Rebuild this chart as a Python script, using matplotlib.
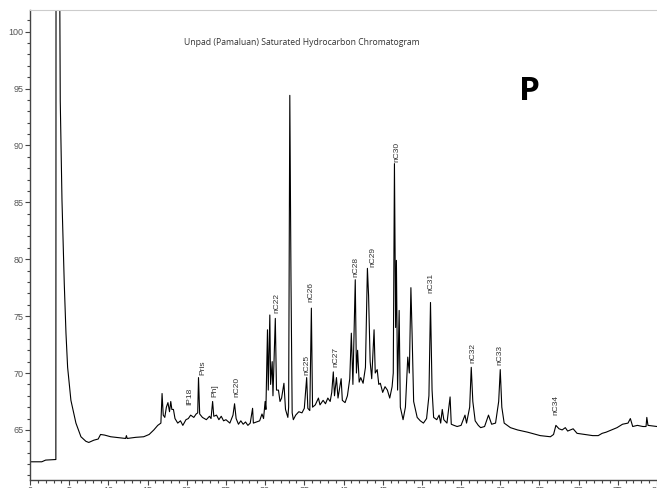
import matplotlib
matplotlib.use('Agg')
import matplotlib.pyplot as plt
from matplotlib.ticker import MultipleLocator

# Retention time (min) and detector response
rt = [
    0.0, 1.5, 2.0, 3.2, 3.3, 3.32, 3.8, 3.86, 4.08, 4.37, 4.59, 4.80, 5.22,
    5.86, 6.50, 7.13, 7.5, 8.15, 8.7, 9.0, 9.5, 10.3, 11.6, 12.2, 12.3, 12.4,
    13.5, 14.5, 15.2, 15.8, 16.3, 16.7, 16.85, 17.0, 17.2, 17.4, 17.6, 17.8,
    17.96, 18.1, 18.3, 18.5, 18.85, 19.2, 19.5, 19.9, 20.2, 20.5, 20.9, 21.2,
    21.4, 21.5, 21.65, 22.0, 22.5, 22.9, 23.1, 23.3, 23.45, 23.8, 24.1, 24.4,
    24.7, 25.0, 25.5, 25.9, 26.1, 26.3, 26.6, 26.9, 27.2, 27.5, 27.8, 28.1,
    28.4, 28.5, 28.9, 29.3, 29.6, 29.8, 30.0, 30.1, 30.3, 30.4, 30.6, 30.7,
    30.9, 31.0, 31.3, 31.45, 31.7, 31.9, 32.1, 32.4, 32.6, 32.9, 33.0, 33.15,
    33.3, 33.45, 33.6, 33.9, 34.3, 34.7, 35.0, 35.3, 35.45, 35.7, 35.9, 36.05,
    36.4, 36.8, 37.0, 37.4, 37.7, 38.0, 38.3, 38.5, 38.7, 38.85, 39.1, 39.3,
    39.7, 39.85, 40.2, 40.5, 40.8, 41.0, 41.2, 41.5, 41.65, 41.8, 42.0, 42.2,
    42.5, 42.8, 43.05, 43.2, 43.4, 43.6, 43.9, 44.05, 44.3, 44.5, 44.7, 45.0,
    45.3, 45.6, 45.9, 46.2, 46.35, 46.5, 46.65, 46.75, 46.9, 47.1, 47.25, 47.6,
    47.9, 48.2, 48.4, 48.6, 48.75, 48.95, 49.4, 49.8, 50.2, 50.6, 50.9, 51.1,
    51.3, 51.5, 51.9, 52.2, 52.4, 52.6, 52.8, 53.2, 53.6, 53.75, 54.1, 54.5,
    55.0, 55.5, 55.7, 56.1, 56.3, 56.5, 56.8, 57.2, 57.5, 58.0, 58.5, 58.9,
    59.4, 59.8, 60.0, 60.2, 60.5, 61.3, 62.2, 63.5, 65.1, 66.4, 66.8, 67.1,
    67.5, 67.9, 68.3, 68.6, 69.3, 69.8, 70.8, 71.8, 72.5, 73.0, 73.5, 74.2,
    74.9, 75.6, 76.3, 76.6, 76.9, 77.5, 78.2, 78.6, 78.7, 78.85, 80.0,
]
response = [
    62.2, 62.2, 62.35, 62.4, 62.4, 103.0, 103.0, 93.9, 85.2, 77.9, 73.5, 70.5, 67.6,
    65.6, 64.4, 64.0, 63.9, 64.1, 64.2, 64.6, 64.55, 64.4, 64.3, 64.25, 64.5, 64.25,
    64.35, 64.4, 64.6, 65.0, 65.4, 65.6, 68.2, 66.3, 66.1, 67.0, 67.4, 66.6,
    67.5, 66.8, 66.8, 66.0, 65.6, 65.8, 65.4, 65.9, 66.0, 66.3, 66.1, 66.4,
    66.5, 69.6, 66.4, 66.1, 65.9, 66.2, 66.0, 67.5, 66.2, 66.3, 65.9, 66.2,
    65.8, 65.9, 65.6, 66.3, 67.3, 66.0, 65.5, 65.8, 65.5, 65.7, 65.4, 65.6,
    66.9, 65.6, 65.7, 65.8, 66.4, 66.0, 67.5, 66.8, 73.8, 68.5, 75.1, 69.0,
    71.0, 68.0, 74.8, 68.5, 68.5, 67.5, 67.8, 69.1, 66.8, 66.1, 67.0, 94.4,
    78.2, 66.5, 65.9, 66.3, 66.6, 66.5, 66.9, 69.6, 66.9, 66.7, 75.7, 67.0,
    67.2, 67.8, 67.2, 67.6, 67.3, 67.8, 67.5, 68.3, 70.1, 68.0, 69.6, 67.8,
    69.5, 67.6, 67.4, 68.0, 69.5, 73.5, 69.0, 78.2, 70.0, 72.0, 69.2, 69.6,
    69.1, 70.5, 79.2, 76.8, 71.0, 69.5, 73.8, 70.0, 70.3, 69.0, 69.1, 68.3,
    68.8, 68.5, 67.8, 68.8, 70.0, 88.4, 74.0, 79.9, 68.5, 75.5, 67.0, 65.9,
    67.0, 71.4, 70.0, 77.5, 73.5, 67.5, 66.1, 65.8, 65.6, 66.0, 68.0, 76.2,
    68.5, 66.1, 65.9, 66.3, 65.6, 66.8, 65.9, 65.6, 67.9, 65.5, 65.4, 65.3,
    65.4, 66.3, 65.6, 67.0, 70.5, 67.5, 65.8, 65.4, 65.2, 65.3, 66.3, 65.5,
    65.6, 67.5, 70.3, 67.0, 65.6, 65.2, 65.0, 64.8, 64.5, 64.4, 64.6, 65.4,
    65.1, 65.0, 65.2, 64.9, 65.1, 64.7, 64.6, 64.5, 64.5, 64.7, 64.8, 65.0,
    65.2, 65.5, 65.6, 66.0, 65.3, 65.4, 65.3, 65.3, 66.1, 65.4, 65.3,
]

# Peak labels: name, x position, bottom of the rotated text
peak_names = ['IP18', 'Pris', 'Ph]', 'nC20', 'nC22', 'nC25', 'nC26', 'nC27',
              'nC28', 'nC29', 'nC30', 'nC31', 'nC32', 'nC33', 'nC34']
peak_x = [20.4, 22.0, 23.6, 26.4, 31.5, 35.3, 35.9, 39.0,
          41.6, 43.8, 46.8, 51.2, 56.5, 60.0, 67.1]
peak_y = [67.2, 69.8, 67.9, 67.9, 75.3, 69.8, 76.2, 70.5,
          78.4, 79.3, 88.5, 77.0, 70.9, 70.7, 66.3]

fig = plt.figure(figsize=(6.57, 4.88), dpi=100)
# the x tick labels sit partly below the lower edge, as in the source image
ax = fig.add_axes([30/657, 8/488, 1 - 30/657, 470/488])

ax.plot(rt, response, color='black', lw=0.8)

for name, x, y in zip(peak_names, peak_x, peak_y):
    ax.text(x, y, name, rotation=90, ha='center', va='bottom',
            fontsize=6, color='#333333', family='Liberation Sans')

ax.set_xlim(0, 80)
ax.set_ylim(60.6, 101.9)

# Ticks
ax.xaxis.set_major_locator(MultipleLocator(5))
ax.xaxis.set_minor_locator(MultipleLocator(1))
ax.yaxis.set_minor_locator(MultipleLocator(1))
ax.set_yticks(range(65, 101, 5))
ax.tick_params(which='major', length=3.5, width=0.8, color='#444444',
               labelsize=6.5, labelcolor='#555555', pad=1)
ax.tick_params(which='minor', length=2.5, width=0.8, color='#444444')
for lab in ax.get_xticklabels() + ax.get_yticklabels():
    lab.set_family('Liberation Sans')

for side in ['left', 'bottom']:
    ax.spines[side].set_color('#444444')
    ax.spines[side].set_linewidth(1.0)
ax.spines['right'].set_visible(False)
ax.spines['top'].set_color('#cccccc')
ax.spines['top'].set_linewidth(0.8)

ax.text(0.434, 0.93, 'Unpad (Pamaluan) Saturated Hydrocarbon Chromatogram',
        transform=ax.transAxes, ha='center', va='center',
        fontsize=6.2, color='#333333', family='Open Sans')
ax.text(0.796, 0.826, 'P', transform=ax.transAxes, ha='center', va='center',
        fontsize=24, fontweight='bold', color='black', family='Open Sans')

fig.savefig('out.png', dpi=100)
